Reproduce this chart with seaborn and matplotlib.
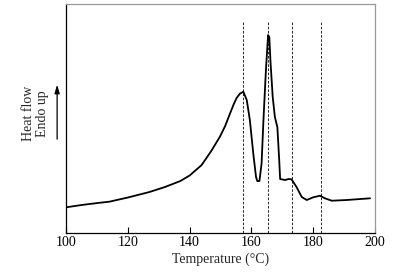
import matplotlib
matplotlib.use("Agg")
import matplotlib.pyplot as plt
import seaborn as sns
import pandas as pd

temperature = [100, 105, 111, 114, 120, 127, 132, 137, 140, 143.9, 147, 149.8, 151.5, 153.1, 154.3, 155.2, 156.3, 157.4,
               158.5, 159.5, 160.6, 161.5, 161.9, 162.6, 163.3, 163.9, 164.7, 165.4, 165.8, 166.2, 166.9, 167.6, 168.4,
               169.0, 169.3, 170.9, 172.0, 173.0, 174.6, 176.3, 177.9, 180.0, 182.2, 183.8, 186.0, 190.8, 198.4]
heat_flow = [25.7, 28.0, 30.3, 31.3, 35.5, 41.0, 46.0, 52.0, 57.5, 68.0, 82.0, 96.3, 107.0, 119.7, 129.0, 135.0, 139.5, 141.3,
             133.0, 113.0, 79.7, 56.0, 52.0, 52.0, 69.7, 113.0, 163.0, 198.0, 196.0, 170.0, 136.0, 116.0, 106.0,
             73.0, 54.0, 53.0, 54.0, 53.7, 46.0, 36.0, 33.0, 35.7, 37.3, 34.7, 32.3, 33.0, 34.7]
marker_temps = [157.4, 165.5, 173.0, 182.4]

sns.set_style("ticks")
plt.rcParams['font.family'] = ['Liberation Serif', 'DejaVu Serif']

fig = plt.figure(figsize=(4.11, 2.73), dpi=100)
ax = fig.add_axes([0.1606, 0.1465, 0.7518, 0.8385])

df = pd.DataFrame({"Temperature": temperature, "Heat flow": heat_flow})
sns.lineplot(data=df, x="Temperature", y="Heat flow", ax=ax, color="black", linewidth=1.3)

for t in marker_temps:
    ax.plot([t, t], [0, 212], linestyle=(0, (3, 2)), color="black", linewidth=0.6)

ax.set_xlim(100, 200)
ax.set_ylim(0, 229)
ax.set_xticks([100, 120, 140, 160, 180, 200])
ax.set_yticks([])
ax.tick_params(axis="x", direction="in", length=4, width=0.8, labelsize=10, pad=2, colors="black")
ax.set_xlabel("Temperature (°C)", fontsize=10, labelpad=3)
ax.set_ylabel("")

for side in ["left", "bottom"]:
    ax.spines[side].set_color("black")
    ax.spines[side].set_linewidth(0.9)
for side in ["top", "right"]:
    ax.spines[side].set_color("#999999")
    ax.spines[side].set_linewidth(0.9)

fig.text(0.087, 0.585, "Heat flow\nEndo up", rotation=90, ha="center", va="center", fontsize=10, linespacing=1.1)
ax.annotate("", xy=(0.139, 0.70), xytext=(0.139, 0.48), xycoords="figure fraction",
            arrowprops=dict(arrowstyle="-|>,head_length=0.5,head_width=0.15", color="black", lw=0.9))

fig.savefig("out.png", dpi=100)
